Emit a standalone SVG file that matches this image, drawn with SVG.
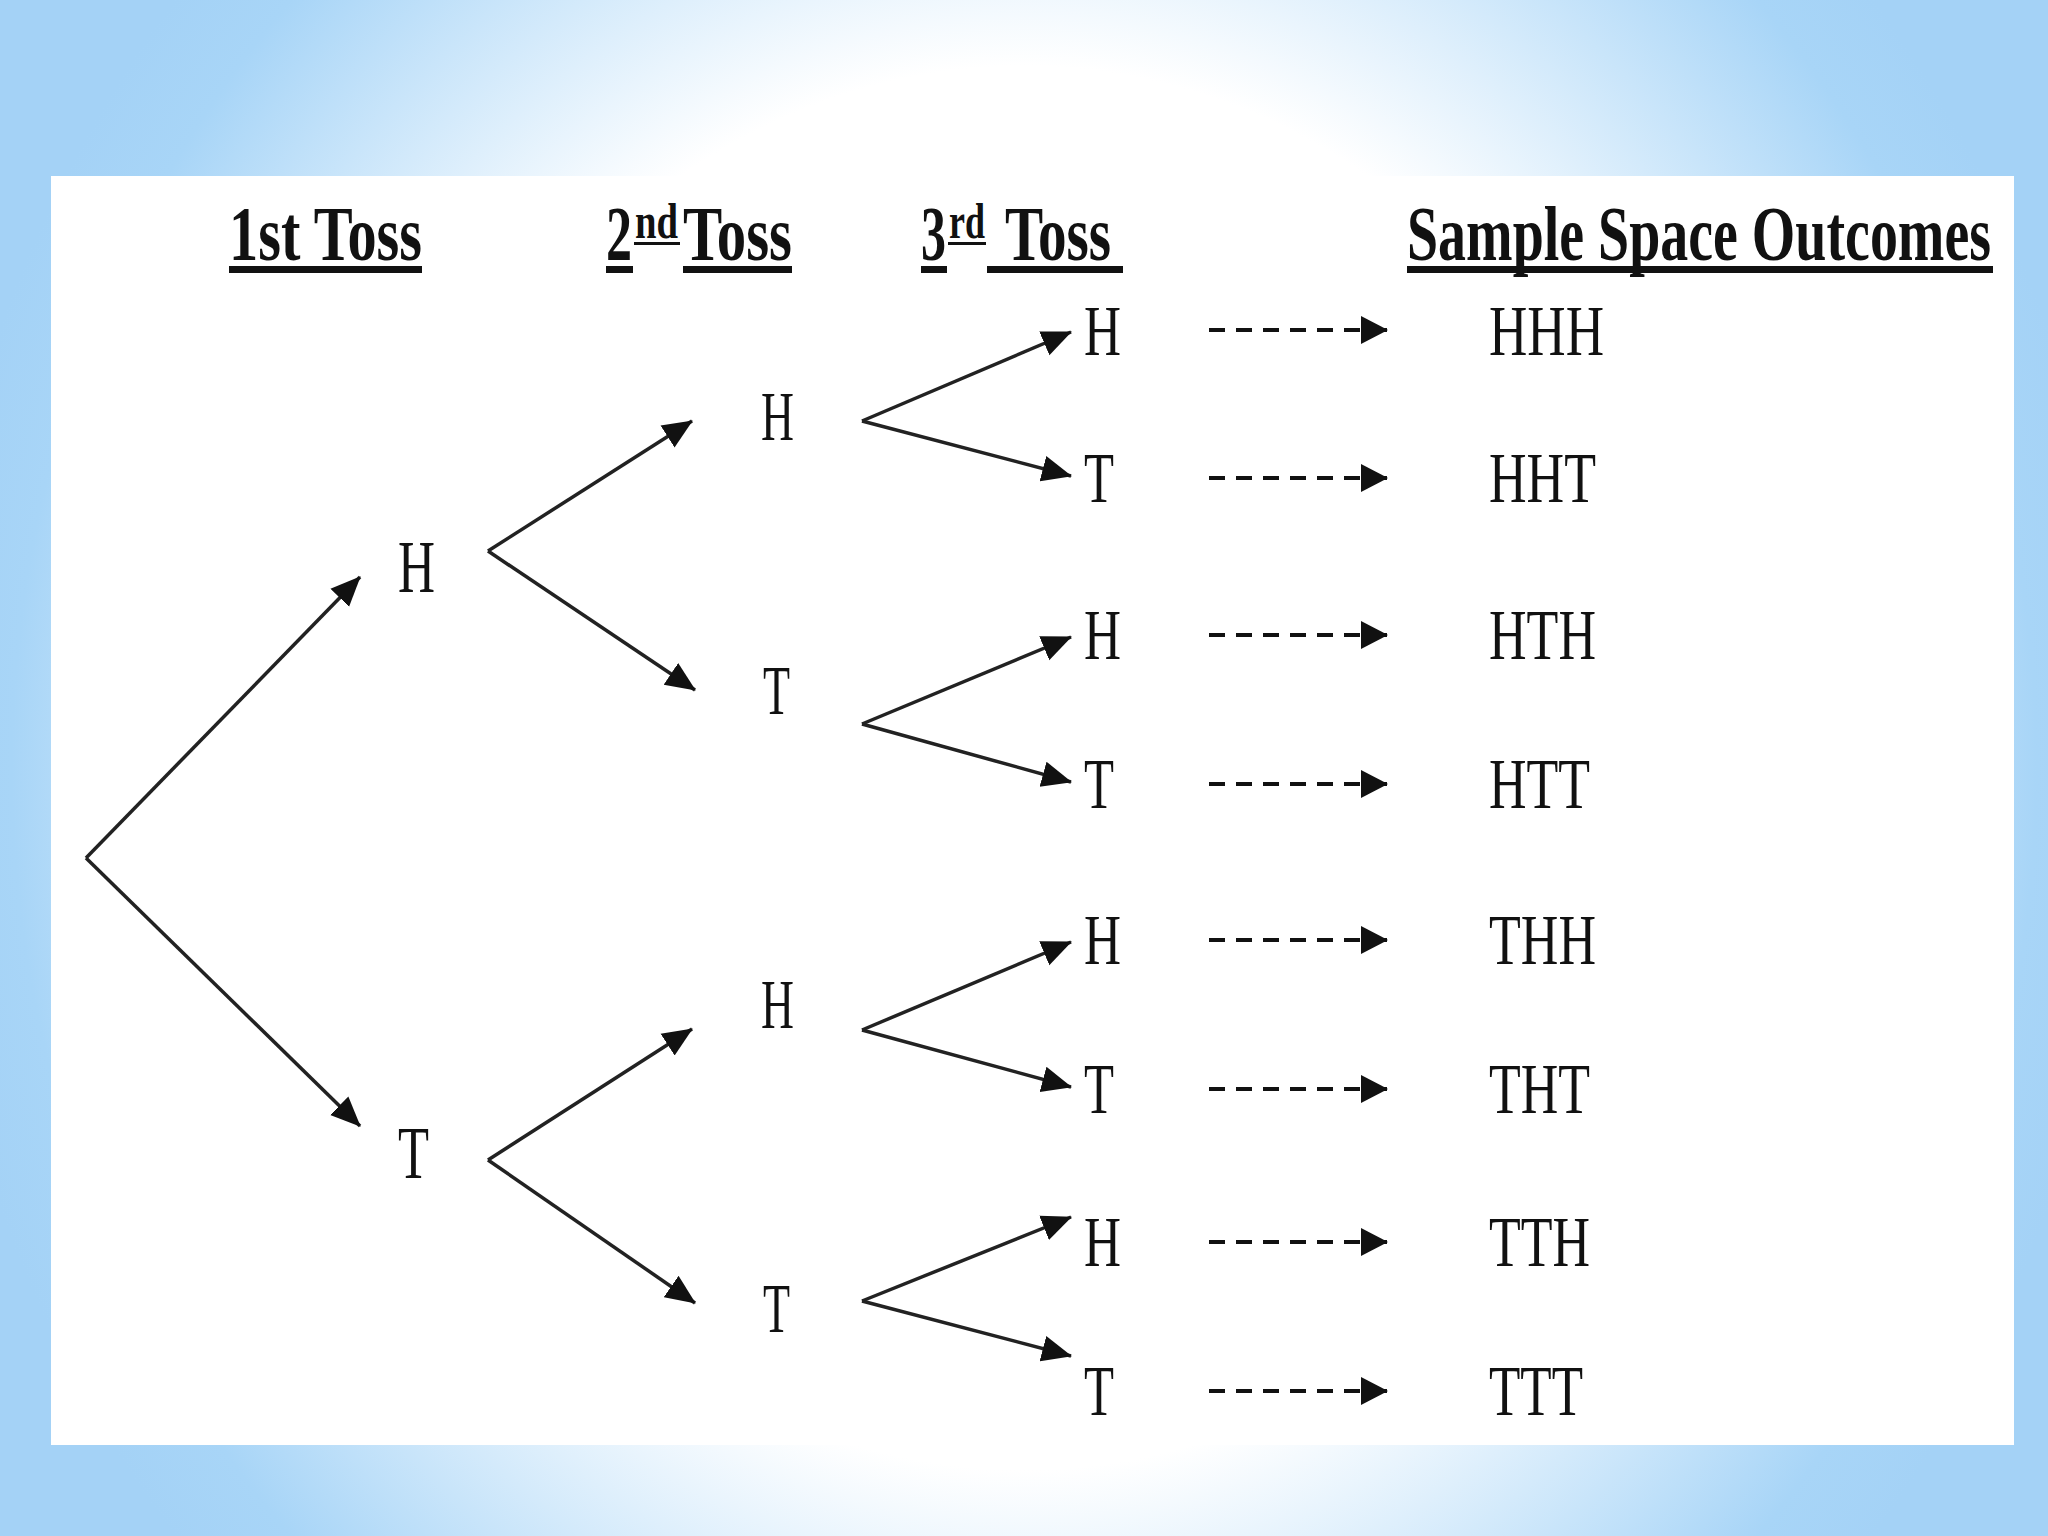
<svg xmlns="http://www.w3.org/2000/svg" width="2048" height="1536" viewBox="0 0 2048 1536">
  <defs>
    <radialGradient id="bg" gradientUnits="userSpaceOnUse" cx="1024" cy="768" r="1100" gradientTransform="translate(1024 768) scale(1 1.1) translate(-1024 -768)">
      <stop offset="0" stop-color="#ffffff"/>
      <stop offset="0.58" stop-color="#ffffff"/>
      <stop offset="0.92" stop-color="#a8d5f7"/>
      <stop offset="1" stop-color="#a4d2f6"/>
    </radialGradient>
    <marker id="arr" markerUnits="userSpaceOnUse" markerWidth="32" markerHeight="28" refX="29" refY="14" orient="auto" viewBox="0 0 32 28">
      <path d="M0,1 L30,14 L0,27 z" fill="#111"/>
    </marker>
    <marker id="arrd" markerUnits="userSpaceOnUse" markerWidth="28" markerHeight="30" refX="26" refY="15" orient="auto" viewBox="0 0 28 30">
      <path d="M0,1 L27,15 L0,29 z" fill="#111"/>
    </marker>
    <style>
      .t { font-family: "Liberation Serif", "Times New Roman", serif; fill: #111; }
      .hd { font-size: 78px; font-weight: bold; }
      .sup { font-size: 50px; font-weight: bold; }
      .l1 { font-size: 74px; }
      .l2 { font-size: 70px; }
      .l3 { font-size: 72px; }
      .ul { fill: #111; }
      .edge { stroke: #222; stroke-width: 3.5; fill: none; marker-end: url(#arr); }
      .dash { stroke: #111; stroke-width: 4; stroke-dasharray: 16 11; fill: none; marker-end: url(#arrd); }
    </style>
  </defs>

  <rect x="0" y="0" width="2048" height="1536" fill="url(#bg)"/>
  <rect x="51" y="176" width="1963" height="1269" fill="#ffffff"/>

  <g id="headers">
    <g id="h-1st">
      <text class="t hd" x="229" y="260" textLength="193" lengthAdjust="spacingAndGlyphs">1st Toss</text>
      <rect class="ul" x="229" y="266" width="193" height="7"/>
    </g>
    <g id="h-2nd">
      <text class="t hd" x="606" y="260" textLength="26" lengthAdjust="spacingAndGlyphs">2</text>
      <text class="t sup" x="635" y="238" textLength="43" lengthAdjust="spacingAndGlyphs">nd</text>
      <text class="t hd" x="683" y="260" textLength="109" lengthAdjust="spacingAndGlyphs">Toss</text>
      <rect class="ul" x="606" y="266" width="27" height="7"/>
      <rect class="ul" x="634" y="242" width="46" height="3"/>
      <rect class="ul" x="683" y="266" width="109" height="7"/>
    </g>
    <g id="h-3rd">
      <text class="t hd" x="921" y="260" textLength="25" lengthAdjust="spacingAndGlyphs">3</text>
      <text class="t sup" x="949" y="238" textLength="36" lengthAdjust="spacingAndGlyphs">rd</text>
      <text class="t hd" x="1005" y="260" textLength="106" lengthAdjust="spacingAndGlyphs">Toss</text>
      <rect class="ul" x="921" y="266" width="26" height="7"/>
      <rect class="ul" x="948" y="242" width="38" height="3"/>
      <rect class="ul" x="987" y="266" width="136" height="7"/>
    </g>
    <g id="h-outcomes">
      <text class="t hd" x="1407" y="260" textLength="584" lengthAdjust="spacingAndGlyphs">Sample Space Outcomes</text>
      <rect class="ul" x="1407" y="266" width="586" height="7"/>
    </g>
  </g>

  <g id="connectors">
    <line class="edge" x1="86" y1="858" x2="360" y2="577"/>
    <line class="edge" x1="86" y1="858" x2="360" y2="1126"/>

    <line class="edge" x1="488" y1="551" x2="692" y2="421"/>
    <line class="edge" x1="488" y1="551" x2="695" y2="690"/>
    <line class="edge" x1="488" y1="1160" x2="692" y2="1029"/>
    <line class="edge" x1="488" y1="1160" x2="695" y2="1303"/>

    <line class="edge" x1="862" y1="421" x2="1071" y2="332"/>
    <line class="edge" x1="862" y1="421" x2="1071" y2="476"/>
    <line class="edge" x1="862" y1="724" x2="1071" y2="637"/>
    <line class="edge" x1="862" y1="724" x2="1071" y2="782"/>
    <line class="edge" x1="862" y1="1030" x2="1071" y2="942"/>
    <line class="edge" x1="862" y1="1030" x2="1071" y2="1087"/>
    <line class="edge" x1="862" y1="1301" x2="1071" y2="1217"/>
    <line class="edge" x1="862" y1="1301" x2="1071" y2="1356"/>

    <line class="dash" x1="1209" y1="330" x2="1387" y2="330"/>
    <line class="dash" x1="1209" y1="478" x2="1387" y2="478"/>
    <line class="dash" x1="1209" y1="635" x2="1387" y2="635"/>
    <line class="dash" x1="1209" y1="784" x2="1387" y2="784"/>
    <line class="dash" x1="1209" y1="940" x2="1387" y2="940"/>
    <line class="dash" x1="1209" y1="1089" x2="1387" y2="1089"/>
    <line class="dash" x1="1209" y1="1242" x2="1387" y2="1242"/>
    <line class="dash" x1="1209" y1="1391" x2="1387" y2="1391"/>
  </g>

  <g id="n1-H"><text class="t l1" x="398" y="592" textLength="37" lengthAdjust="spacingAndGlyphs">H</text></g>
  <g id="n1-T"><text class="t l1" x="398" y="1178" textLength="31" lengthAdjust="spacingAndGlyphs">T</text></g>

  <g id="n2-HH"><text class="t l2" x="761" y="440" textLength="33" lengthAdjust="spacingAndGlyphs">H</text></g>
  <g id="n2-HT"><text class="t l2" x="763" y="714" textLength="27" lengthAdjust="spacingAndGlyphs">T</text></g>
  <g id="n2-TH"><text class="t l2" x="761" y="1028" textLength="33" lengthAdjust="spacingAndGlyphs">H</text></g>
  <g id="n2-TT"><text class="t l2" x="763" y="1332" textLength="27" lengthAdjust="spacingAndGlyphs">T</text></g>

  <g id="n3-HHH"><text class="t l3" x="1084" y="355" textLength="37" lengthAdjust="spacingAndGlyphs">H</text></g>
  <g id="n3-HHT"><text class="t l3" x="1084" y="502" textLength="30" lengthAdjust="spacingAndGlyphs">T</text></g>
  <g id="n3-HTH"><text class="t l3" x="1084" y="659" textLength="37" lengthAdjust="spacingAndGlyphs">H</text></g>
  <g id="n3-HTT"><text class="t l3" x="1084" y="808" textLength="30" lengthAdjust="spacingAndGlyphs">T</text></g>
  <g id="n3-THH"><text class="t l3" x="1084" y="964" textLength="37" lengthAdjust="spacingAndGlyphs">H</text></g>
  <g id="n3-THT"><text class="t l3" x="1084" y="1113" textLength="30" lengthAdjust="spacingAndGlyphs">T</text></g>
  <g id="n3-TTH"><text class="t l3" x="1084" y="1266" textLength="37" lengthAdjust="spacingAndGlyphs">H</text></g>
  <g id="n3-TTT"><text class="t l3" x="1084" y="1415" textLength="30" lengthAdjust="spacingAndGlyphs">T</text></g>

  <g id="o-HHH"><text class="t l3" x="1489" y="355" textLength="115" lengthAdjust="spacingAndGlyphs">HHH</text></g>
  <g id="o-HHT"><text class="t l3" x="1489" y="502" textLength="107" lengthAdjust="spacingAndGlyphs">HHT</text></g>
  <g id="o-HTH"><text class="t l3" x="1489" y="659" textLength="107" lengthAdjust="spacingAndGlyphs">HTH</text></g>
  <g id="o-HTT"><text class="t l3" x="1489" y="808" textLength="101" lengthAdjust="spacingAndGlyphs">HTT</text></g>
  <g id="o-THH"><text class="t l3" x="1489" y="964" textLength="107" lengthAdjust="spacingAndGlyphs">THH</text></g>
  <g id="o-THT"><text class="t l3" x="1489" y="1113" textLength="101" lengthAdjust="spacingAndGlyphs">THT</text></g>
  <g id="o-TTH"><text class="t l3" x="1489" y="1266" textLength="101" lengthAdjust="spacingAndGlyphs">TTH</text></g>
  <g id="o-TTT"><text class="t l3" x="1489" y="1415" textLength="94" lengthAdjust="spacingAndGlyphs">TTT</text></g>
</svg>
